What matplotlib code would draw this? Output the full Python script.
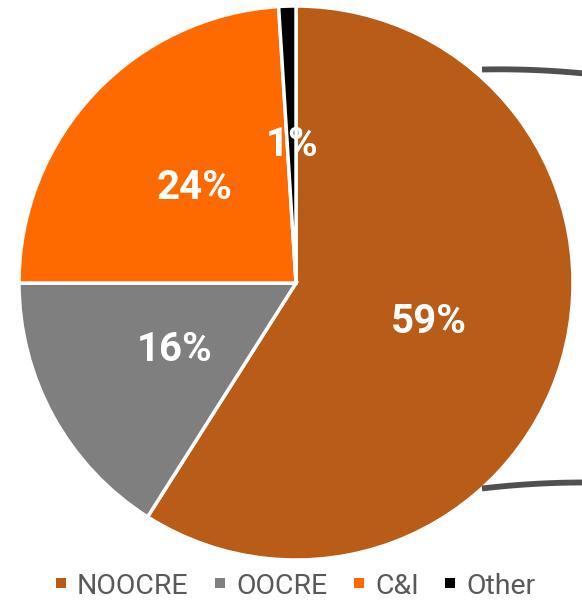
import matplotlib
matplotlib.use("Agg")
import matplotlib.pyplot as plt
from matplotlib.patches import Rectangle
from matplotlib.lines import Line2D
import numpy as np

plt.rcParams['font.family'] = ['Roboto', 'DejaVu Sans']

categories = ["NOOCRE", "OOCRE", "C&I", "Other"]
values = [59, 16, 24, 1]
colors = ["#B95C18", "#7F7F7F", "#FF6A00", "#000000"]

W, H = 582, 600
fig = plt.figure(figsize=(W / 100, H / 100), dpi=100)

cx, cy, r = 296, 283, 277
ax = fig.add_axes([(cx - r) / W, (H - cy - r) / H, 2 * r / W, 2 * r / H])
wedges, texts, autotexts = ax.pie(
    values, colors=colors, startangle=90, counterclock=False,
    autopct=lambda p: f"{p:.0f}%", pctdistance=0.5, radius=1,
    wedgeprops=dict(edgecolor="white", linewidth=2.5),
    textprops=dict(color="white", fontsize=29, fontweight="bold"))
ax.set_xlim(-1, 1)
ax.set_ylim(-1, 1)
ax.set_aspect("equal")
ax.axis("off")

# bracket lines on right (pixel coords)
def curve(x0, y0, x1, y1, bow):
    t = np.linspace(0, 1, 30)
    xs = x0 + (x1 - x0) * t
    ys = y0 + (y1 - y0) * t + bow * 4 * t * (1 - t)
    return xs / W, 1 - ys / H

xs, ys = curve(482, 69.5, 584, 73.5, -1.5)
fig.add_artist(Line2D(xs, ys, color="#505050", linewidth=4.2, transform=fig.transFigure, solid_capstyle="butt"))
xs, ys = curve(482, 488.5, 584, 482.5, -1.5)
fig.add_artist(Line2D(xs, ys, color="#505050", linewidth=4.2, transform=fig.transFigure, solid_capstyle="butt"))

# legend
marker_x = [56, 215, 354, 445]
ly = 583
for mx, lab, col in zip(marker_x, categories, colors):
    fig.add_artist(Rectangle((mx / W, 1 - (ly + 5) / H), 10 / W, 10 / H,
                             facecolor=col, edgecolor="none", transform=fig.transFigure))
    fig.text((mx + 21) / W, 1 - ly / H, lab, color="#595959", fontsize=20.5,
             ha="left", va="center_baseline")

fig.savefig("out.png", dpi=100)
